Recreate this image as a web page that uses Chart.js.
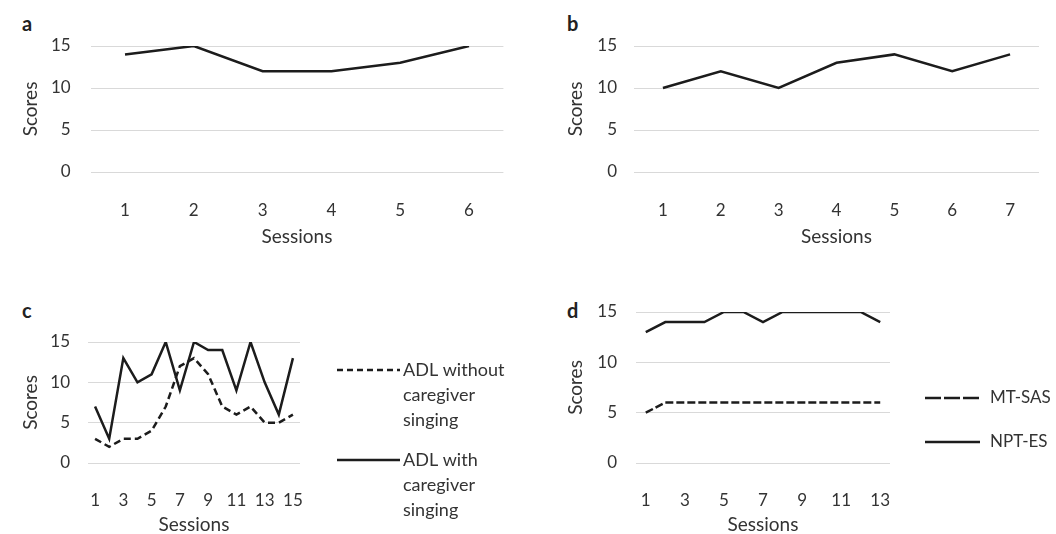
<!DOCTYPE html>
<html>
<head>
<meta charset="utf-8">
<script src="https://cdn.jsdelivr.net/npm/chart.js@4.4.1/dist/chart.umd.min.js"></script>
<style>
body{margin:0;background:#fff;width:1056px;height:534px;position:relative;overflow:hidden;}
.box{position:absolute;}
.tag{position:absolute;font:bold 20px Lato,sans-serif;line-height:20px;color:#222;}
</style>
</head>
<body>
<div class="tag" style="left:22px;top:13px">a</div>
<div class="tag" style="left:567px;top:13px">b</div>
<div class="tag" style="left:22px;top:300px">c</div>
<div class="tag" style="left:567px;top:300px">d</div>
<div class="box" style="left:0;top:0;width:528px;height:260px"><canvas id="chartA"></canvas></div>
<div class="box" style="left:528px;top:0;width:528px;height:260px"><canvas id="chartB"></canvas></div>
<div class="box" style="left:0;top:260px;width:528px;height:274px"><canvas id="chartC"></canvas></div>
<div class="box" style="left:528px;top:260px;width:528px;height:274px"><canvas id="chartD"></canvas></div>
<script>
'use strict';

// values
const sessionsA = ['1','2','3','4','5','6'];
const scoresA = [14,15,12,12,13,15];

const sessionsB = ['1','2','3','4','5','6','7'];
const scoresB = [10,12,10,13,14,12,14];

const sessionsC = ['1','2','3','4','5','6','7','8','9','10','11','12','13','14','15'];
const adlWithout = [3,2,3,3,4,7,12,13,11,7,6,7,5,5,6];
const adlWith = [7,3,13,10,11,15,9,15,14,14,9,15,10,6,13];

const sessionsD = ['1','2','3','4','5','6','7','8','9','10','11','12','13'];
const mtSas = [5,6,6,6,6,6,6,6,6,6,6,6,6];
const nptEs = [13,14,14,14,15,15,14,15,15,15,15,15,14];

const scoreTicks = [0,5,10,15];

const INK = '#1c1c1c';
const TEXT = '#333333';
const GRID = '#d9d9d9';

// draws the legend on the right side, one line sample + stacked text lines
const sideLegend = {
    id: 'sideLegend',
    afterDraw(chart, args, opts){
        if(!opts.items) return;
        const ctx = chart.ctx;
        opts.items.forEach(it => {
            const ds = chart.data.datasets[it.dataset];
            ctx.save();
            ctx.strokeStyle = ds.borderColor;
            ctx.lineWidth = ds.borderWidth;
            ctx.setLineDash(it.dash || ds.borderDash || []);
            ctx.beginPath();
            ctx.moveTo(it.x0, it.y);
            ctx.lineTo(it.x1, it.y);
            ctx.stroke();
            ctx.setLineDash([]);
            ctx.fillStyle = TEXT;
            ctx.font = (opts.fontSize || 18) + 'px Lato, sans-serif';
            ctx.textBaseline = 'middle';
            [].concat(ds.label).forEach((s, k) => {
                ctx.fillText(s, it.textX, it.y + k * opts.lineGap);
            });
            ctx.restore();
        });
    }
};

function line(label, data, dash){
    return {
        label: label,
        data: data,
        borderColor: INK,
        borderWidth: 2.5,
        borderDash: dash || [],
        pointRadius: 0,
        tension: 0,
        fill: false
    };
}

function makeChart(id, labels, datasets, geo, oddOnly, legend){
    const ctx = document.getElementById(id).getContext('2d');
    return new Chart(ctx, {
        type: 'line',
        data: { labels: labels, datasets: datasets },
        options: {
            responsive: true,
            maintainAspectRatio: false,
            animation: false,
            events: [],
            layout: { padding: { left: geo.padL, top: geo.padT, right: geo.padR, bottom: geo.padB } },
            plugins: {
                legend: { display: false },
                tooltip: { enabled: false },
                sideLegend: legend || {}
            },
            scales: {
                x: {
                    offset: true,
                    grid: { display: false },
                    border: { display: false },
                    ticks: {
                        autoSkip: false,
                        maxRotation: 0,
                        padding: geo.tickPadX,
                        color: TEXT,
                        font: { family: 'Lato', size: 17 },
                        callback: function(v, i){
                            const s = this.getLabelForValue(v);
                            return (oddOnly && i % 2 === 1) ? '' : s;
                        }
                    },
                    title: {
                        display: true,
                        text: 'Sessions',
                        color: TEXT,
                        padding: 0,
                        font: { family: 'Lato', size: 19, lineHeight: 1 }
                    },
                    afterFit: s => { s.height = geo.xH; }
                },
                y: {
                    min: 0,
                    max: 15,
                    grid: { color: GRID, lineWidth: 1, drawTicks: false },
                    border: { display: false },
                    afterBuildTicks: s => { s.ticks = scoreTicks.map(v => ({ value: v })); },
                    ticks: {
                        padding: geo.tickPadY,
                        color: TEXT,
                        font: { family: 'Lato', size: 17 }
                    },
                    title: {
                        display: true,
                        text: 'Scores',
                        color: TEXT,
                        padding: 0,
                        font: { family: 'Lato', size: 19 }
                    },
                    afterFit: s => { s.width = geo.yW; }
                }
            }
        },
        plugins: [sideLegend]
    });
}

makeChart('chartA', sessionsA, [line('Scores', scoresA)],
    { padL: 19, yW: 71.6, padT: 46, padR: 24.6, xH: 74, padB: 14, tickPadX: 20, tickPadY: 20 });

makeChart('chartB', sessionsB, [line('Scores', scoresB)],
    { padL: 36, yW: 70, padT: 46, padR: 17, xH: 74, padB: 14, tickPadX: 20, tickPadY: 17 });

makeChart('chartC', sessionsC,
    [line(['ADL without', 'caregiver', 'singing'], adlWithout, [7, 4]),
     line(['ADL with', 'caregiver', 'singing'], adlWith)],
    { padL: 19, yW: 69, padT: 82, padR: 228, xH: 71, padB: 0, tickPadX: 19, tickPadY: 18 },
    true,
    { lineGap: 25, items: [
        { dataset: 0, x0: 337, x1: 400, y: 110, textX: 403, dash: [6, 4] },
        { dataset: 1, x0: 337, x1: 400, y: 200, textX: 403 }
    ] });

makeChart('chartD', sessionsD,
    [line('MT-SAS', mtSas, [8, 3]),
     line('NPT-ES', nptEs)],
    { padL: 36, yW: 72, padT: 52, padR: 166, xH: 71, padB: 0, tickPadX: 19, tickPadY: 19 },
    true,
    { lineGap: 25, fontSize: 17, items: [
        { dataset: 0, x0: 397, x1: 452, y: 138, textX: 462, dash: [16, 3] },
        { dataset: 1, x0: 397, x1: 452, y: 182, textX: 462 }
    ] });
</script>
</body>
</html>
